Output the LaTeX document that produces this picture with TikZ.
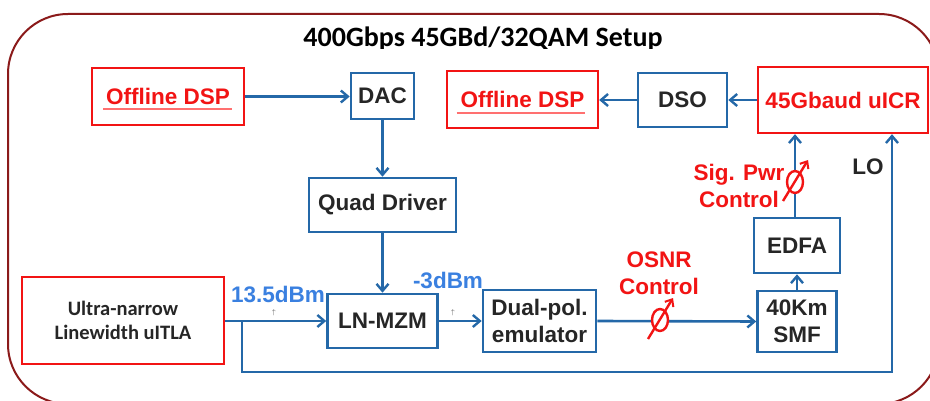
\documentclass[tikz,border=0pt]{standalone}
\usepackage{fontspec}
\setmainfont{Liberation Sans}
\newfontfamily\calib{Carlito}
\usetikzlibrary{arrows.meta,calc}
\definecolor{bl}{HTML}{2468A8}
\definecolor{rd}{HTML}{F21414}
\definecolor{dred}{HTML}{8B1A1A}
\definecolor{lbl}{HTML}{3A80E0}
\definecolor{ulc}{HTML}{FF7070}
\begin{document}
\begin{tikzpicture}[x=1pt,y=-1pt,
  txt/.style={font=\fontsize{22.5}{27}\selectfont\bfseries},
  bbox/.style={draw=bl,line width=2.6pt,fill=white,inner sep=0pt,align=center,txt,text=black!85},
  rbox/.style={draw=rd,line width=2.4pt,fill=white,inner sep=0pt,align=center,txt,text=rd},
  arr/.style={draw=bl,line width=2.6pt,-{Straight Barb[length=7pt,width=12pt,line width=2.4pt]}},
  rtxt/.style={txt,text=rd,align=center,inner sep=0pt},
  btxt/.style={txt,text=lbl,inner sep=0pt},
  tick/.style={font=\fontsize{7}{7}\selectfont,text=black!70,inner sep=0pt}
]
\useasboundingbox (0,0) rectangle (930,401);
\clip (0,0) rectangle (930,401);
\fill[white] (0,0) rectangle (930,401);
% outer frame
\draw[dred,line width=2pt,rounded corners=60pt] (8,14) rectangle (939,404);
% title
\begin{scope}
\clip (250,18) rectangle (720,48.5);
\node[inner sep=0pt] (title) at (483,39) {\calib\bfseries\fontsize{28}{30}\selectfont 400Gbps 45GBd/32QAM Setup};
\end{scope}
% boxes
\node[rbox,minimum width=152,minimum height=57] (dspL) at (168,96.5) {Offline DSP};
\node[bbox,minimum width=63,minimum height=46] (dac) at (382.5,96) {DAC};
\node[rbox,minimum width=151,minimum height=57] (dspR) at (522.5,99.5) {Offline DSP};
\node[bbox,minimum width=89,minimum height=54] (dso) at (682.5,100) {DSO};
\node[rbox,minimum width=170,minimum height=66] (uicr) at (843,100) {45Gbaud uICR};
\node[bbox,minimum width=147,minimum height=54] (quad) at (382.5,205) {Quad Driver};
\node[bbox,minimum width=110,minimum height=54] (mzm) at (382.5,321) {LN-MZM};
\node[rbox,minimum width=202,minimum height=87,text=black!85,font=\calib\bfseries\fontsize{20.5}{24}\selectfont] (itla) at (123,320.5) {Ultra-narrow\\Linewidth uITLA};
\node[bbox,minimum width=113,minimum height=62] (dual) at (539.5,321) {Dual-pol.\\emulator};
\node[bbox,minimum width=79,minimum height=61] (smf) at (797,321.5) {40Km\\SMF};
\node[bbox,minimum width=86,minimum height=55] (edfa) at (797,245.5) {EDFA};
% underlines
\draw[ulc,line width=1.4pt] ($(dspL.center)+(-65,12.5)$) -- ($(dspL.center)+(64,12.5)$);
\draw[ulc,line width=1.4pt] ($(dspR.center)+(-66,13.5)$) -- ($(dspR.center)+(62,13.5)$);
% connectors
\draw[arr] (dspL.east) -- (dac.west |- dspL.east);
\draw[arr] (dac.south) -- (quad.north);
\draw[arr] (quad.south) -- (mzm.north);
\draw[arr] (uicr.west) -- (dso.east);
\draw[arr] (dso.west) -- (dspR.east |- dso.west);
\draw[arr] (itla.east |- mzm.west) -- (mzm.west);
\draw[arr] (mzm.east) -- (dual.west);
\draw[arr] (dual.east) -- (smf.west);
\draw[arr] (smf.north) -- (edfa.south);
\coordinate (sp) at (795,218);
\draw[arr] (edfa.north -| sp) -- (uicr.south -| sp);
\coordinate (br) at (242,321);
\coordinate (lo) at (892,372);
\draw[arr] (br) |- (lo) -- (lo |- uicr.south);
% labels
\node[btxt] (p1) at (278,294) {13.5dBm};
\node[btxt] (p2) at (448,280) {-3dBm};
\node[tick] (t1) at (274,312.5) {$\uparrow$};
\node[tick] (t2) at (453,312.5) {$\uparrow$};
\node[rtxt] (osnr) at (659,273) {OSNR\\Control};
\node[rtxt] (sig) at (739,186) {Sig. Pwr\\Control};
\node[txt,text=black!85,inner sep=0pt] (lotxt) at (868,167) {LO};
% attenuators
\foreach \ax/\ay in {660/320,795/182}{
  \begin{scope}[shift={(\ax,\ay)}]
    \draw[rd,line width=2.4pt,fill=white] (0,0) ellipse [x radius=8pt,y radius=11pt];
    \draw[rd,line width=2.4pt,-{Straight Barb[length=6pt,width=10pt,line width=2pt]}] (-12,19) -- (13,-22);
  \end{scope}
}
\end{tikzpicture}
\end{document}
